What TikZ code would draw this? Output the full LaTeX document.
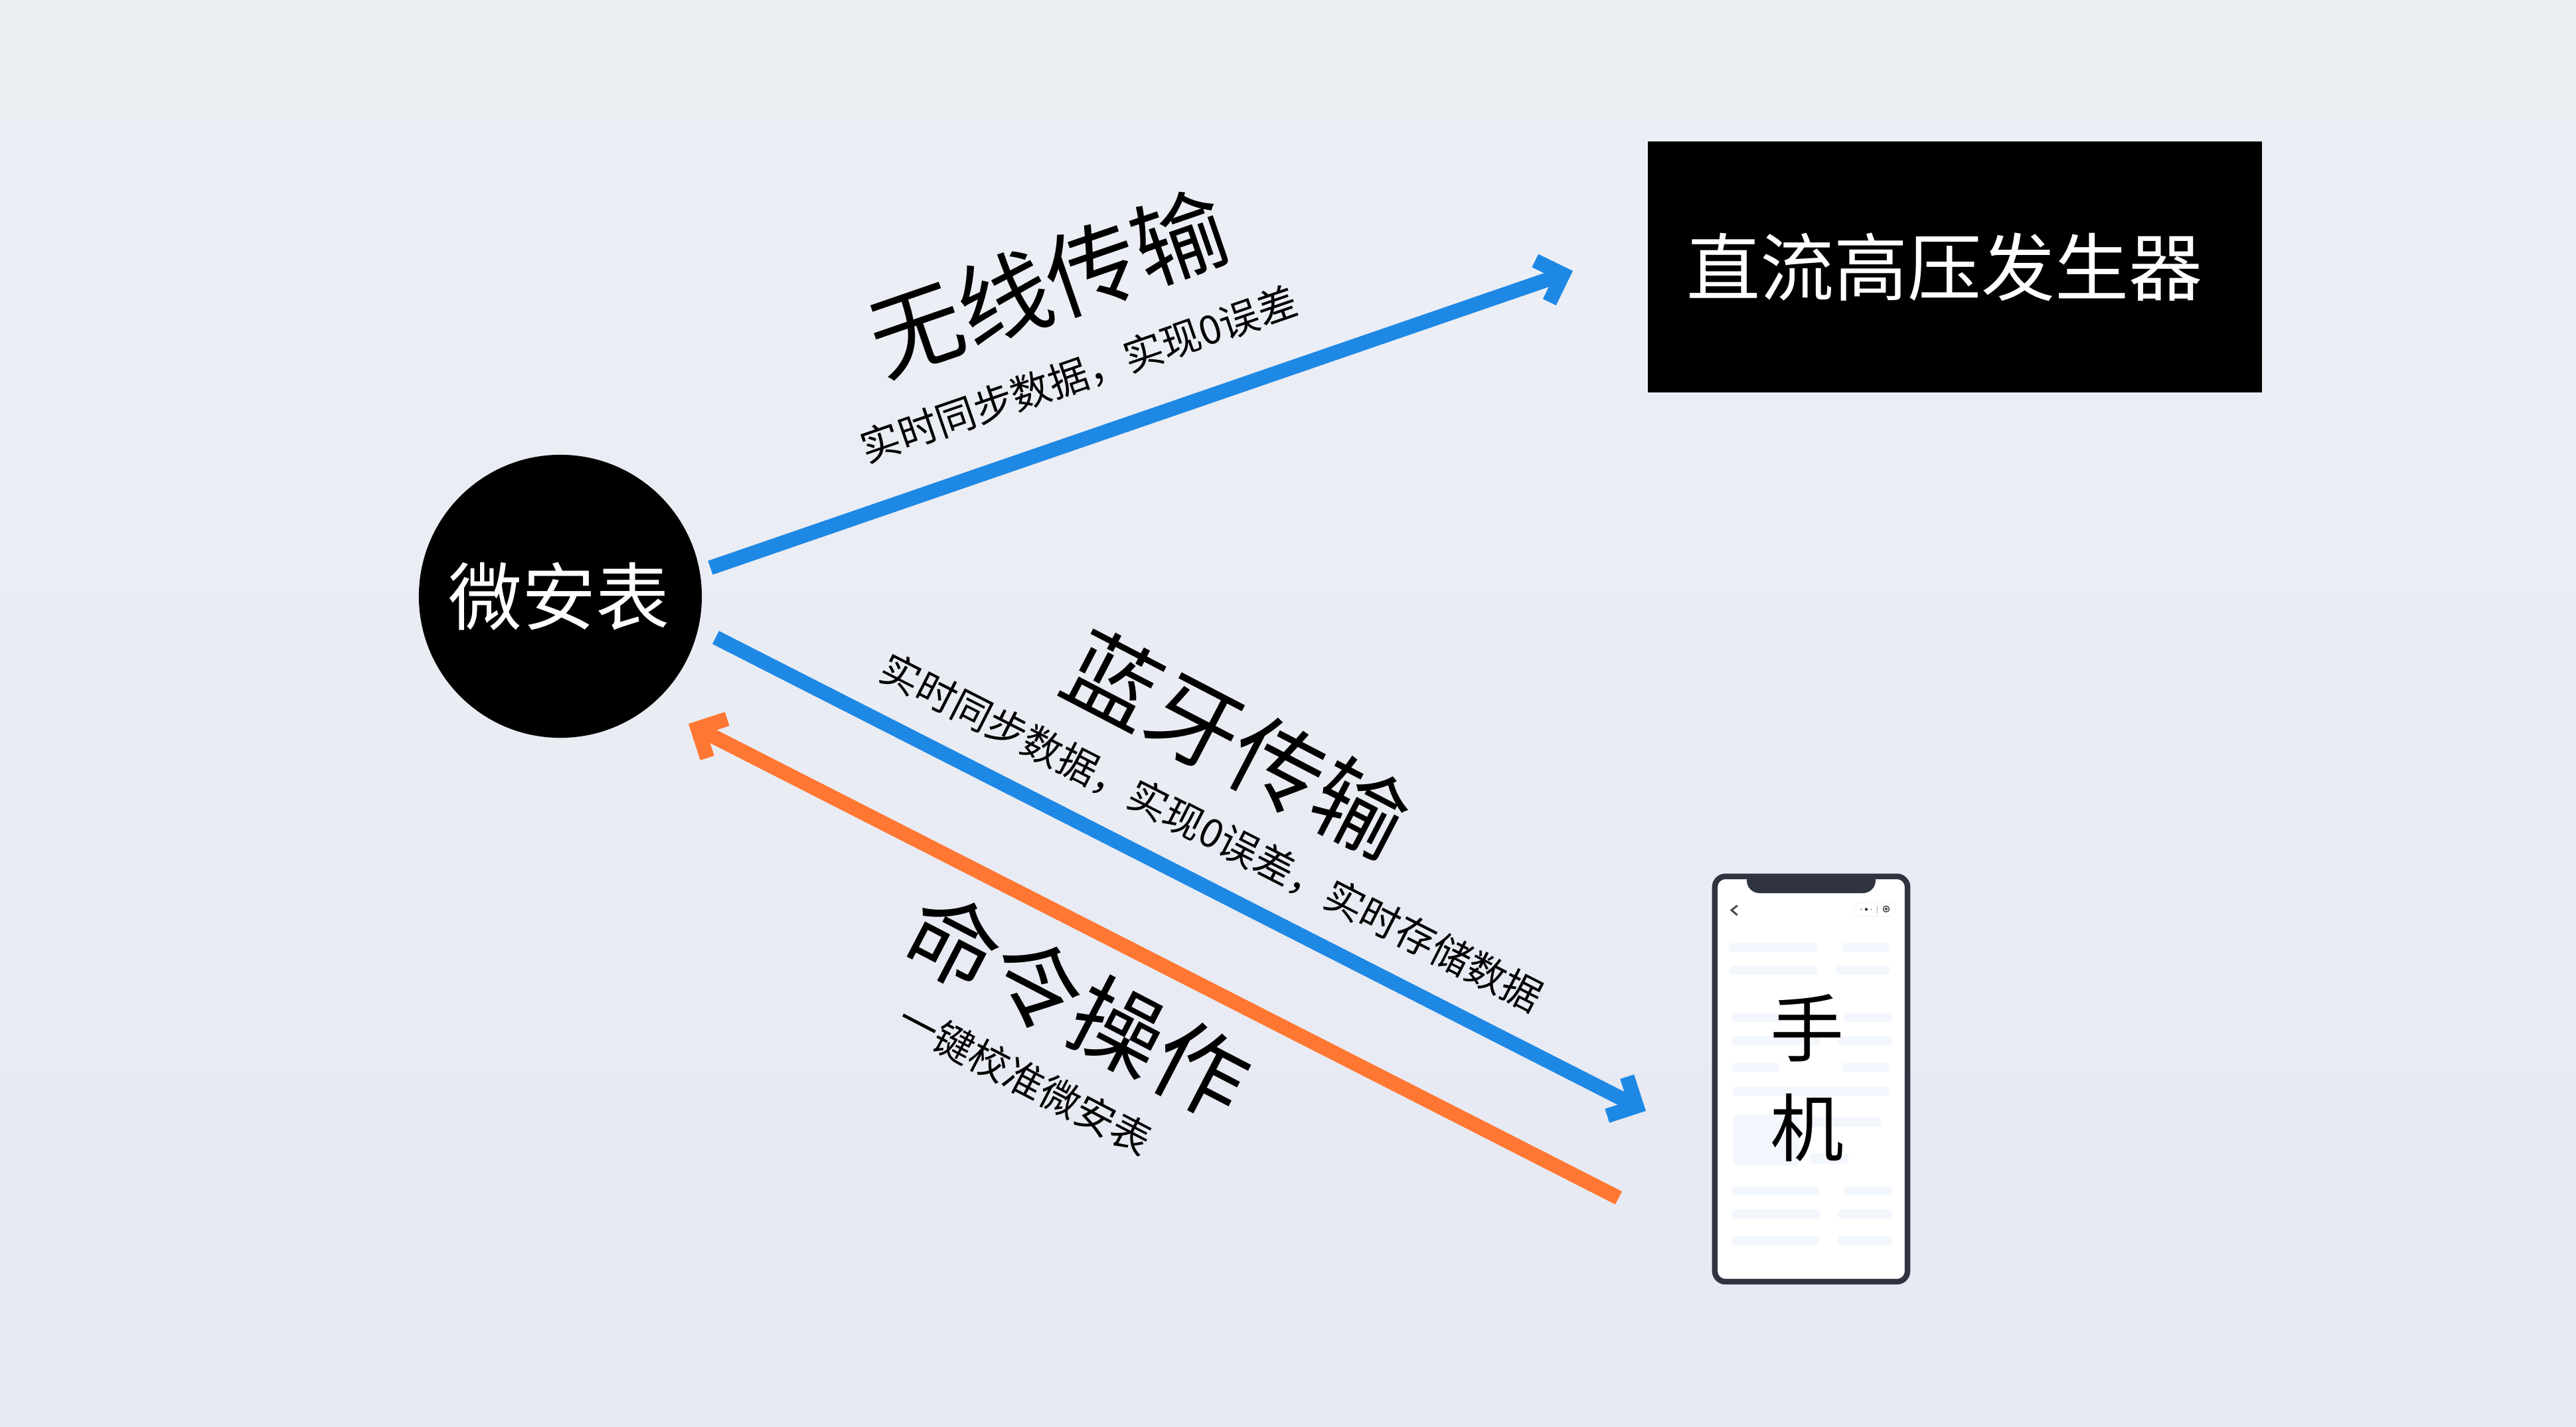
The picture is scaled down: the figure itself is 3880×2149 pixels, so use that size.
\documentclass[tikz,border=0pt]{standalone}
\usepackage{fontspec}
\setmainfont{Noto Sans CJK SC}
\usetikzlibrary{arrows.meta}
\definecolor{bgtop}{HTML}{ECEFF4}
\definecolor{bgbot}{HTML}{E6E9F2}
\definecolor{flowblue}{HTML}{1E88E5}
\definecolor{floworange}{HTML}{FF7733}
\definecolor{phonedark}{HTML}{2F3440}
\definecolor{skel}{HTML}{F2F6FD}
\newcommand{\sizeA}{\fontsize{31.6pt}{36pt}\selectfont}
\newcommand{\sizeB}{\fontsize{39.7pt}{46pt}\selectfont}
\newcommand{\sizeC}{\fontsize{17pt}{22pt}\selectfont}
\tikzset{
  x=0.01cm,y=-0.01cm,
  flow/.style={line width=0.22cm,-{Straight Barb[length=0.33cm,width=0.66cm,line width=0.22cm]},line cap=butt},
  skelbar/.style={fill=skel,draw=none,rounded corners=0.06cm},
  lbl/.style={inner sep=0pt,text=black,font=\sizeA},
  lblw/.style={inner sep=0pt,text=white,font=\sizeA},
  title/.style={inner sep=0pt,text=black,font=\sizeB},
  sub/.style={inner sep=0pt,text=black,font=\sizeC},
}
\begin{document}
\begin{tikzpicture}
\useasboundingbox (0,0) rectangle (3880,2149);
\shade[top color=bgtop,bottom color=bgbot,draw=none] (0,0) rectangle (3880,2149);
% hubs
\node[circle,fill=black,minimum size=4.26cm,inner sep=0pt] (watch) at (844,898) {};
\node[lblw] (watchtext) at (842,898) {微安表};
\node[rectangle,fill=black,minimum width=9.25cm,minimum height=3.78cm,inner sep=0pt] (hv) at (2944.5,402) {};
\node[lblw] (hvtext) at (2929,402) {直流高压发生器};
% phone
\node[draw=phonedark,fill=white,line width=0.085cm,rounded corners=0.16cm,minimum width=2.9cm,minimum height=6.1cm,inner sep=0pt] (phone) at (2728,1625) {};
\fill[phonedark] (2631,1320) -- (2825,1320) -- (2825,1326) .. controls (2825,1337) and (2816,1345) .. (2806,1345) -- (2650,1345) .. controls (2640,1345) and (2631,1337) .. (2631,1326) -- cycle;
\foreach \a/\b/\c in {192/592/315,700/920/315,192/592/395,673/920/395,203/603/559,712/931/559,203/603/640,685/931/640,203/421/732,700/920/732,208/920/815,203/601/1161,712/931/1161,203/603/1241,685/931/1241,203/601/1333,685/931/1333}
  \fill[skelbar] ({2540+\a/3},{1290+(\c-15)/2.306}) rectangle ({2540+\b/3},{1290+(\c+15)/2.306});
\fill[skel,rounded corners=0.06cm] ({2540+213/3},{1290+897/2.306}) rectangle ({2540+510/3},{1290+1073/2.306});
\fill[skelbar] ({2540+558/3},{1290+905/2.306}) rectangle ({2540+880/3},{1290+939/2.306});
\fill[skelbar] ({2540+558/3},{1290+1032/2.306}) rectangle ({2540+733/3},{1290+1066/2.306});
\draw[black!70,line width=0.03cm] ({2540+230/3},{1290+170/2.306}) -- ({2540+204/3},{1290+186/2.306}) -- ({2540+230/3},{1290+203/2.306});
\draw[skel,line width=0.015cm,rounded corners=0.09cm] ({2540+758/3},{1290+160/2.306}) rectangle ({2540+945/3},{1290+207/2.306});
\fill[black!80] ({2540+813/3},{1290+183/2.306}) circle (0.022cm);
\fill[black!80] ({2540+790/3},{1290+183/2.306}) circle (0.008cm);
\fill[black!80] ({2540+836/3},{1290+183/2.306}) circle (0.008cm);
\draw[skel!70!black,line width=0.005cm] ({2540+862/3},{1290+170/2.306}) -- ({2540+862/3},{1290+196/2.306});
\draw[black!75,line width=0.014cm] ({2540+903/3},{1290+182/2.306}) circle (0.045cm);
\fill[black!75] ({2540+903/3},{1290+182/2.306}) circle (0.02cm);
\node[lbl] (phone1) at (2722,1548) {手};
\node[lbl] (phone2) at (2722,1698) {机};
% connector ends
\coordinate (a1) at (1070,855);
\coordinate (a1e) at (2369,408);
\coordinate (a2) at (1078,960);
\coordinate (a2e) at (2479,1673);
\coordinate (a3) at (2438,1804);
\coordinate (a3e) at (1037,1090);
\draw[flow,draw=flowblue] (a1) -- (a1e);
\draw[flow,draw=flowblue] (a2) -- (a2e);
\draw[flow,draw=floworange] (a3) -- (a3e);
% labels
\node[title,rotate=19] (t1) at (1578,426) {无线传输};
\node[sub,rotate=19] (s1) at (1625,564) {实时同步数据，实现0误差};
\node[title,rotate=-27.5] (t2) at (1863,1120) {蓝牙传输};
\node[sub,rotate=-27] (s2) at (1825,1254) {实时同步数据，实现0误差，实时存储数据};
\node[title,rotate=-27.5] (t3) at (1623,1514) {命令操作};
\node[sub,rotate=-27.5] (s3) at (1544,1625) {一键校准微安表};
\end{tikzpicture}
\end{document}
